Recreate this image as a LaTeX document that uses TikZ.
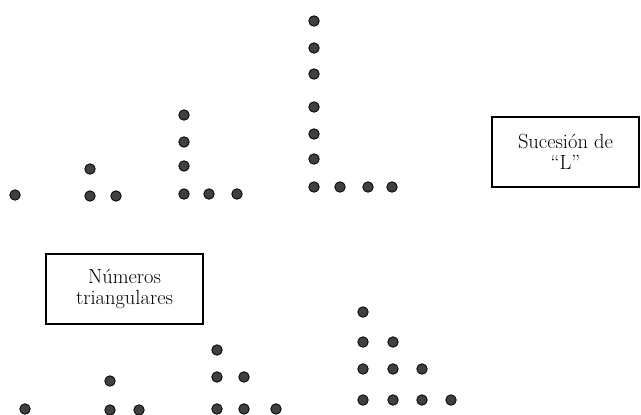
\documentclass[tikz,border=0pt]{standalone}
\usepackage{tikz}
\usetikzlibrary{positioning}

\begin{document}
\begin{tikzpicture}[
    x=1pt, y=-1pt,
    dot/.style={circle, draw=black, fill=black!75, line width=0.8pt,
                inner sep=0pt, minimum size=10.5pt},
    label box/.style={draw, line width=1.1pt, rectangle, align=center,
                      font=\fontsize{20.5}{21}\selectfont},
]
\useasboundingbox (0,0) rectangle (641,415);

% Sucesion de "L"
\foreach \x/\y [count=\i] in {15/195}
    \node[dot] (la\i) at (\x,\y) {};
\foreach \x/\y [count=\i] in {90/169, 90/196, 116/196}
    \node[dot] (lb\i) at (\x,\y) {};
\foreach \x/\y [count=\i] in {184/115, 184/142, 184/166, 184/194, 209/194, 237/194}
    \node[dot] (lc\i) at (\x,\y) {};
\foreach \x/\y [count=\i] in {314/21, 314/48, 314/74, 314/107, 314/134, 314/159,
                              314/187, 340/187, 368/187, 392/187}
    \node[dot] (ld\i) at (\x,\y) {};

\node[label box, minimum width=147pt, minimum height=70pt] (lbox) at (565.5,152)
    {Sucesión de\\``L''};

% Numeros triangulares
\node[label box, minimum width=157pt, minimum height=70pt] (tbox) at (124.5,289)
    {Números\\triangulares};

\foreach \x/\y [count=\i] in {25/409}
    \node[dot] (ta\i) at (\x,\y) {};
\foreach \x/\y [count=\i] in {110/381, 110/410, 139/410}
    \node[dot] (tb\i) at (\x,\y) {};
\foreach \x/\y [count=\i] in {217/350, 217/377, 244/377, 217/409, 244/409, 276/409}
    \node[dot] (tc\i) at (\x,\y) {};
\foreach \x/\y [count=\i] in {363/312, 363/342, 393/342, 363/369, 393/369, 422/369,
                              363/400, 393/400, 422/400, 451/400}
    \node[dot] (td\i) at (\x,\y) {};
\end{tikzpicture}
\end{document}
